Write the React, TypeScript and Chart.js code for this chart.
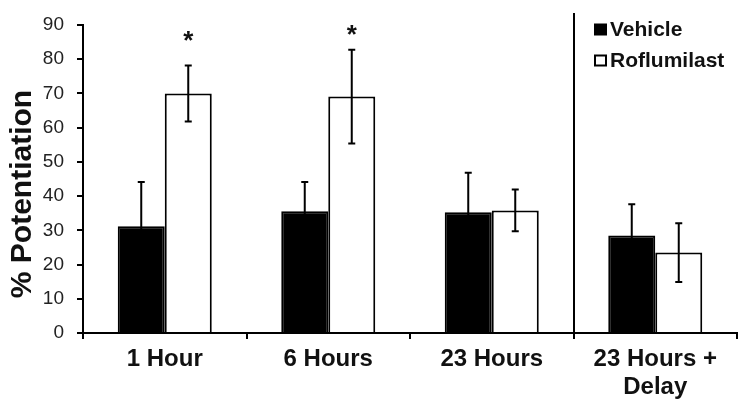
import React, { useEffect, useRef } from "react";
import { Chart, registerables } from "chart.js";

Chart.register(...registerables);

const categories: (string | string[])[] = ["1 Hour", "6 Hours", "23 Hours", ["23 Hours +", "Delay"]];
const vehicle = [31.2, 35.6, 35.3, 28.5];
const vehicleErr = [12.9, 8.5, 11.5, 9.1];
const roflumilast = [70, 69.1, 35.8, 23.5];
const roflumilastErr = [8.2, 13.7, 6.1, 8.6];
// asterisk marks (value at which the * is centred), null = not significant
const roflumilastSig: (number | null)[] = [86.8, 88.6, null, null];
const yTicks = [0, 10, 20, 30, 40, 50, 60, 70, 80, 90];
const yTitle = "% Potentiation";
const seriesNames = ["Vehicle", "Roflumilast"];

const FONT = "'Liberation Sans', Arial, sans-serif";

const errorPlugin = {
  id: "errorBars",
  afterDatasetsDraw(chart: any) {
    const ctx = chart.ctx;
    const y = chart.scales.y;
    const errs = [vehicleErr, roflumilastErr];
    ctx.save();
    ctx.strokeStyle = "#000";
    ctx.lineWidth = 2;
    chart.data.datasets.forEach((ds: any, i: number) => {
      const meta = chart.getDatasetMeta(i);
      meta.data.forEach((bar: any, j: number) => {
        const v = ds.data[j];
        const e = errs[i][j];
        const yt = y.getPixelForValue(v + e);
        const yb = y.getPixelForValue(v - e);
        const x = bar.x;
        ctx.beginPath();
        ctx.moveTo(x, yt);
        ctx.lineTo(x, yb);
        ctx.moveTo(x - 3.5, yt);
        ctx.lineTo(x + 3.5, yt);
        ctx.moveTo(x - 3.5, yb);
        ctx.lineTo(x + 3.5, yb);
        ctx.stroke();
      });
    });
    // asterisks
    const meta = chart.getDatasetMeta(1);
    ctx.fillStyle = "#111";
    ctx.font = `bold 26px ${FONT}`;
    ctx.textAlign = "center";
    ctx.textBaseline = "alphabetic";
    roflumilastSig.forEach((s, j) => {
      if (s == null) return;
      const m = ctx.measureText("*");
      const cy = y.getPixelForValue(s);
      const base = cy + (m.actualBoundingBoxAscent - m.actualBoundingBoxDescent) / 2;
      ctx.fillText("*", meta.data[j].x, base);
    });
    ctx.restore();
  },
  afterDraw(chart: any) {
    const ctx = chart.ctx;
    const x = chart.scales.x;
    const area = chart.chartArea;
    ctx.save();
    // separator line
    const sx = Math.round((x.getPixelForValue(2) + x.getPixelForValue(3)) / 2);
    ctx.strokeStyle = "#000";
    ctx.lineWidth = 2;
    ctx.beginPath();
    ctx.moveTo(sx, area.top - 12);
    ctx.lineTo(sx, area.bottom);
    ctx.stroke();
    // legend
    ctx.font = `bold 21px ${FONT}`;
    ctx.textBaseline = "middle";
    ctx.textAlign = "left";
    ctx.fillStyle = "#111";
    const lx = sx + 20;
    seriesNames.forEach((name, i) => {
      const cy = area.top + 4.5 + i * 31;
      if (i === 0) {
        ctx.fillStyle = "#000";
        ctx.fillRect(lx, cy - 6, 13, 12);
      } else {
        ctx.fillStyle = "#fff";
        ctx.fillRect(lx + 1, cy - 5, 11, 10);
        ctx.strokeStyle = "#000";
        ctx.lineWidth = 2;
        ctx.strokeRect(lx + 1, cy - 5, 11, 10);
      }
      ctx.fillStyle = "#111";
      ctx.fillText(name, lx + 16, cy + 1);
    });
    // y title
    ctx.translate(area.left - 60, (area.top + area.bottom) / 2 + 15);
    ctx.rotate(-Math.PI / 2);
    ctx.textAlign = "center";
    ctx.font = `bold 30px ${FONT}`;
    ctx.fillStyle = "#111";
    ctx.fillText(yTitle, 0, 0);
    ctx.restore();
  },
};

export default function App() {
  const ref = useRef<HTMLCanvasElement>(null);
  useEffect(() => {
    if (!ref.current) return;
    const chart = new Chart(ref.current, {
      type: "bar",
      data: {
        labels: categories as any,
        datasets: [
          {
            label: seriesNames[0],
            data: vehicle,
            backgroundColor: "#000",
            borderColor: "#000",
            borderWidth: 2,
          },
          {
            label: seriesNames[1],
            data: roflumilast,
            backgroundColor: "#fff",
            borderColor: "#000",
            borderWidth: 2,
          },
        ],
      },
      options: {
        animation: false,
        responsive: true,
        maintainAspectRatio: false,
        layout: { padding: { top: 25, right: 11, left: 0, bottom: 0 } },
        datasets: { bar: { categoryPercentage: 0.575, barPercentage: 1 } },
        plugins: { legend: { display: false }, tooltip: { enabled: false } },
        scales: {
          x: {
            grid: { display: true, drawOnChartArea: false, drawTicks: true, tickLength: 6, color: "#000", lineWidth: 2, offset: true },
            border: { display: true, color: "#000", width: 2 },
            ticks: { color: "#111", font: { family: FONT, size: 24, weight: "bold", lineHeight: 1.18 }, padding: 6, maxRotation: 0, autoSkip: false },
            afterFit: (s: any) => { s.height = 80; },
          },
          y: {
            min: 0,
            max: 90,
            afterBuildTicks: (s: any) => { s.ticks = yTicks.map((v) => ({ value: v })); },
            grid: { display: true, drawOnChartArea: false, drawTicks: true, tickLength: 6, color: "#000", lineWidth: 2 },
            border: { display: true, color: "#000", width: 2 },
            ticks: { color: "#222", font: { family: FONT, size: 19 }, padding: 13 },
            afterFit: (s: any) => { s.width = 83; },
          },
        },
      },
      plugins: [errorPlugin],
    });
    return () => chart.destroy();
  }, []);
  return (
    <div style={{ position: "fixed", left: 0, top: 0, width: 748, height: 413, background: "#fff" }}>
      <canvas ref={ref} />
    </div>
  );
}
